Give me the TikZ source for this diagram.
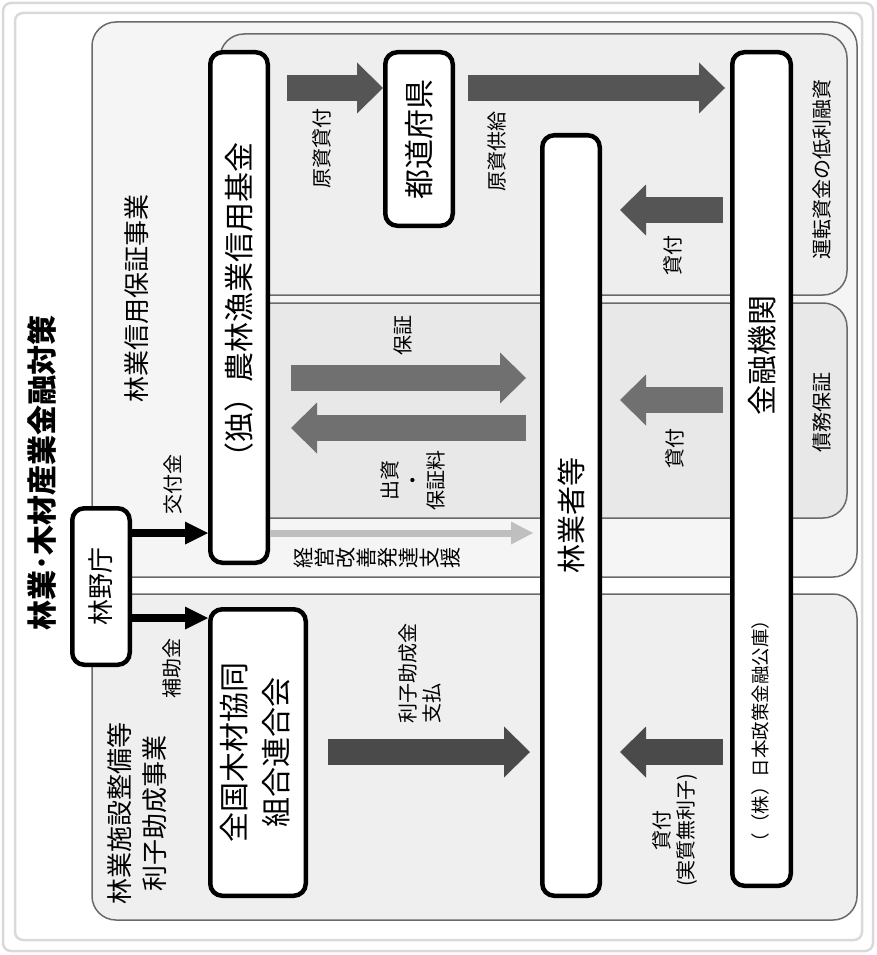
\documentclass[tikz,border=0pt]{standalone}
\usepackage{fontspec}
\usepackage{graphicx}
\setmainfont{Noto Sans CJK JP}
\usetikzlibrary{arrows.meta}

\definecolor{framegray}{HTML}{D9D9D9}
\definecolor{secline}{HTML}{6A6A6A}
\definecolor{secfill}{HTML}{F5F5F5}
\definecolor{upfill}{HTML}{EEEEEE}
\definecolor{midfill}{HTML}{E8E8E8}
\definecolor{lowfill}{HTML}{EFEFEF}
\definecolor{arrdark}{HTML}{555555}
\definecolor{arrmid}{HTML}{707070}
\definecolor{arrdeep}{HTML}{4A4A4A}
\definecolor{arrlight}{HTML}{BFBFBF}

\tikzset{>=latex}

\begin{document}
\begin{tikzpicture}[x=1pt,y=-1pt]
	\tikzstyle{inst} = [draw=black, line width=4.5pt, rounded corners=12pt, fill=white, inner sep=0pt]
	\tikzstyle{lbl} = [rotate=90, align=center, inner sep=0pt, font=\fontsize{20}{23}\selectfont]
	\tikzstyle{section} = [draw=secline, line width=1.5pt, rounded corners=24pt]
	\tikzstyle{bigarrow} = [line width=26pt, -{Triangle[width=51pt,length=26pt,line width=0pt]}]
	\tikzstyle{smallarrow} = [line width=8pt, -{Triangle[width=23pt,length=23pt,line width=0pt]}]
	\tikzstyle{thinarrow} = [line width=7pt, -{Triangle[width=23pt,length=22pt,line width=0pt]}]

	\useasboundingbox (0,0) rectangle (876,955);

%----------frame and sections------------------------------
	\draw[framegray, line width=2.5pt, rounded corners=8pt] (3,3) rectangle (873,951);
	\draw[framegray, line width=2.5pt, rounded corners=8pt] (15,13) rectangle (862,940);

	\draw[section, fill=secfill] (92,22) rectangle (857,577);
	\draw[section, fill=upfill] (220,34) rectangle (847,295);
	\draw[section, fill=midfill] (220,303) rectangle (847,518);
	\draw[section, fill=lowfill] (92,594) rectangle (857,920);

	\node[lbl, font=\bfseries\fontsize{30}{32}\selectfont] (title) at (42,473) {林業･木材産業金融対策};
	\node[lbl, font=\fontsize{26}{35}\selectfont] (credit) at (137,298) {林業信用保証事業};
	\node[lbl, font=\fontsize{26}{35}\selectfont] (subsidy) at (137,813) {林業施設整備等\\利子助成事業};
	\node[lbl] (opfund) at (822,169) {運転資金の低利融資};
	\node[lbl] (debt) at (822,412) {債務保証};

%----------institutions------------------------------
	\node[inst, minimum width=57.5pt, minimum height=156.5pt, font=\fontsize{26}{30}\selectfont] (rinya) at (101,586.5) {\rotatebox{90}{林野庁}};
	\node[inst, minimum width=57.5pt, minimum height=510.5pt, font=\fontsize{30}{34}\selectfont] (fund) at (239,307.5) {\rotatebox{90}{（独）農林漁業信用基金}};
	\node[inst, minimum width=67.5pt, minimum height=173.5pt, font=\fontsize{30}{34}\selectfont] (pref) at (419,139) {\rotatebox{90}{都道府県}};
	\node[inst, minimum width=57.5pt, minimum height=760.5pt, font=\fontsize{29}{34}\selectfont] (forest) at (571,515.5) {\rotatebox{90}{林業者等}};
	\node[inst, minimum width=58.5pt, minimum height=833.5pt] (bank) at (761.5,469) {};
	\node[inst, minimum width=95.5pt, minimum height=286.5pt, font=\fontsize{30}{42}\selectfont] (zenmoku) at (258,752.5) {\rotatebox{90}{\begin{tabular}{@{}c@{}}全国木材協同\\組合連合会\end{tabular}}};

	\node[lbl, font=\fontsize{30}{34}\selectfont] (bankname) at (762,355) {金融機関};
	\node[lbl, font=\fontsize{18.5}{22}\selectfont] (jfc) at (760,731) {（（株）日本政策金融公庫）};

%----------upper part------------------------------
	\draw[bigarrow, draw=arrdark, shorten <=17pt] (fund.east |- 0,88) -- (pref.west |- 0,88);
	\node[lbl] (genkashi) at (322,148) {原資貸付};

	\draw[bigarrow, draw=arrdark, shorten <=13pt, shorten >=5pt] (pref.east |- 0,88) -- (bank.west |- 0,88);
	\node[lbl] (genkyo) at (497,151) {原資供給};

	\draw[bigarrow, draw=arrdark, shorten <=7pt, shorten >=18pt] (bank.west |- 0,210) -- (forest.east |- 0,210);
	\node[lbl] (kashi1) at (673,255) {貸付};

%----------guarantee------------------------------
	\draw[bigarrow, draw=arrmid, shorten <=21pt, shorten >=14pt] (fund.east |- 0,378) -- (forest.west |- 0,378);
	\node[lbl] (hosho) at (403,335) {保証};

	\draw[bigarrow, draw=arrmid, shorten <=14pt, shorten >=21pt] (forest.west |- 0,428) -- (fund.east |- 0,428);
	\node[lbl] (shusshi) at (413,480) {出資\\・\\保証料};

	\draw[bigarrow, draw=arrmid, shorten <=7pt, shorten >=18pt] (bank.west |- 0,400) -- (forest.east |- 0,400);
	\node[lbl] (kashi2) at (675,448) {貸付};

	\draw[thinarrow, draw=arrlight, shorten >=7pt] (fund.east |- 0,533) -- (forest.west |- 0,533);
	\node[lbl, font=\fontsize{21}{21}\selectfont] (keiei) at (377,558) {経\\営\\改\\善\\発\\達\\支\\援};

%----------agency------------------------------
	\draw[smallarrow, draw=black] (rinya.east |- 0,533) -- (fund.west |- 0,533);
	\node[lbl] (kofu) at (173,484) {交付金};

	\draw[smallarrow, draw=black] (rinya.east |- 0,618) -- (zenmoku.west |- 0,618);
	\node[lbl] (hojo) at (172,668) {補助金};

%----------interest subsidy------------------------------
	\draw[bigarrow, draw=arrdeep, shorten <=20pt, shorten >=10pt] (zenmoku.east |- 0,752) -- (forest.west |- 0,752);
	\node[lbl, align=left, font=\fontsize{20}{24}\selectfont] (rishi) at (420,673) {利子助成金\\支払};

	\draw[bigarrow, draw=arrdeep, shorten <=7pt, shorten >=18pt] (bank.west |- 0,752) -- (forest.east |- 0,752);
	\node[lbl, font=\fontsize{20}{24}\selectfont] (kashi3) at (675,830) {貸付\\(実質無利子)};

\end{tikzpicture}
\end{document}
